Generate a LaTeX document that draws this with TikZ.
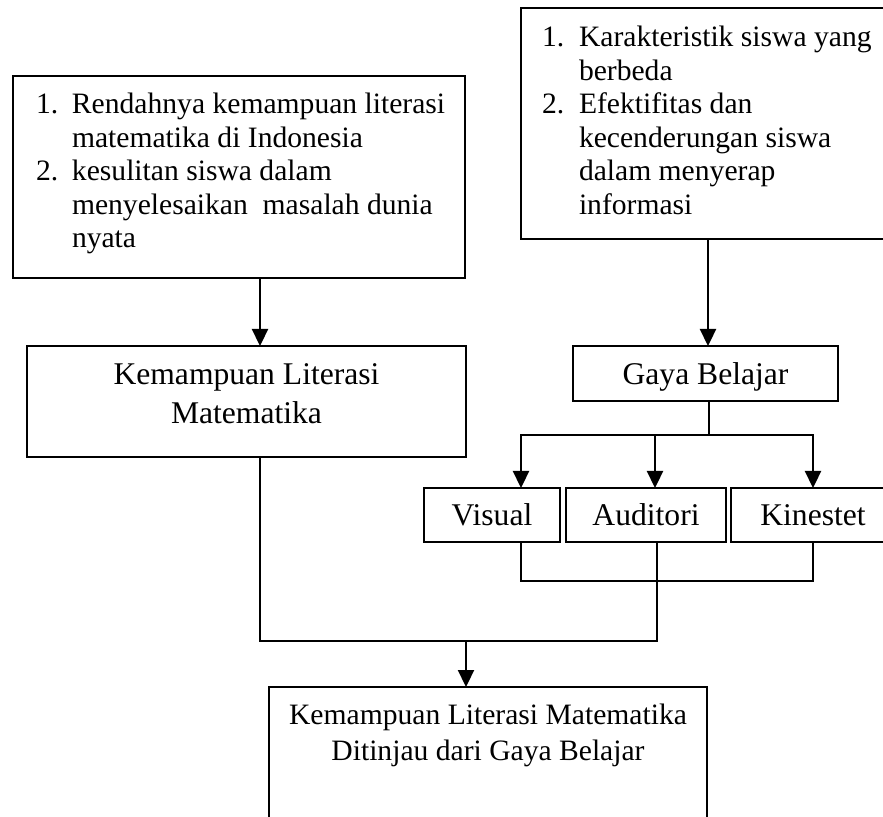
\documentclass[tikz,border=0pt]{standalone}
\usepackage{fontspec}
\setmainfont{Liberation Serif}
\usetikzlibrary{arrows.meta}
\begin{document}
\begin{tikzpicture}[x=0.5pt,y=-0.5pt,
  box/.style={draw,line width=1.15pt,inner sep=0pt,outer sep=0pt},
  lbl/.style={box,font=\fontsize{15.8}{19}\selectfont,text height=10.6pt,text depth=0pt},
  txt/.style={inner sep=0pt,outer sep=0pt},
  listfont/.style={font=\fontsize{14.8}{16.75}\selectfont},
  conn/.style={line width=1.15pt},
  arr/.style={conn,-{Triangle[length=8.5pt,width=8pt]}}]
\useasboundingbox (0,0) rectangle (883,817);
\clip (0,0) rectangle (883,817);
% boxes
\node[box,minimum width=226pt,minimum height=101pt] (tl) at (239,177) {};
\node[box,minimum width=187pt,minimum height=115.5pt] (tr) at (708,123.5) {};
\node[box,minimum width=219.5pt,minimum height=55.5pt] (klm) at (246.5,401.5) {};
\node[lbl,minimum width=132.5pt,minimum height=27.5pt] (gaya) at (705.5,373.5) {Gaya Belajar};
\node[lbl,minimum width=68pt,minimum height=27pt] (vis) at (492,515) {Visual};
\node[lbl,minimum width=80pt,minimum height=27pt] (aud) at (646,515) {Auditori};
\node[lbl,minimum width=82pt,minimum height=27pt] (kin) at (813,515) {Kinestet};
\node[box,minimum width=219pt,minimum height=76.5pt] (bot) at (488,763.5) {};
% texts
\node[txt,listfont,anchor=base west] (tltxt) at (36,114) {\begin{tabular}[t]{@{}l@{}l@{}}\makebox[18pt][l]{1.}&Rendahnya kemampuan literasi\\ &matematika di Indonesia\\ 2.&kesulitan siswa dalam\\ &menyelesaikan\ \ masalah dunia\\ &nyata\end{tabular}};
\node[txt,listfont,anchor=base west] (trtxt) at (542,47) {\begin{tabular}[t]{@{}l@{}l@{}}\makebox[18.5pt][l]{1.}&Karakteristik siswa yang\\ &berbeda\\ 2.&Efektifitas dan\\ &kecenderungan siswa\\ &dalam menyerap\\ &informasi\end{tabular}};
\node[txt,font=\fontsize{15.8}{19.5}\selectfont,anchor=base] (klmtxt) at (246.5,385) {\begin{tabular}[t]{@{}c@{}}Kemampuan Literasi\\Matematika\end{tabular}};
\node[txt,font=\fontsize{14.8}{18}\selectfont,anchor=base] (bottxt) at (488,724) {\begin{tabular}[t]{@{}c@{}}Kemampuan Literasi Matematika\\Ditinjau dari Gaya Belajar\end{tabular}};
% connectors
\coordinate (bus) at (709,435);
\coordinate (low) at (521,581);
\coordinate (merge) at (466,641);
\draw[arr] ([xshift=123.5pt]tl.south west) -- ([xshift=123.5pt]tl.south west |- klm.north);
\draw[arr] (tr.south) -- (tr.south |- gaya.north);
\draw[conn] ([xshift=1.75pt]gaya.south) -- ([xshift=1.75pt]gaya.south |- bus);
\draw[arr] (bus) -| ([xshift=48.5pt]vis.north west);
\draw[arr] (bus) -| (kin.north);
\draw[arr] ([xshift=44.5pt]aud.north west |- bus) -- ([xshift=44.5pt]aud.north west);
\draw[conn] ([xshift=48.5pt]vis.south west) |- (low) -| (kin.south);
\draw[conn] ([xshift=116.5pt]klm.south west) |- (merge) -| ([xshift=45.5pt]aud.south west);
\draw[arr] (merge) -- (merge |- bot.north);
\end{tikzpicture}
\end{document}
